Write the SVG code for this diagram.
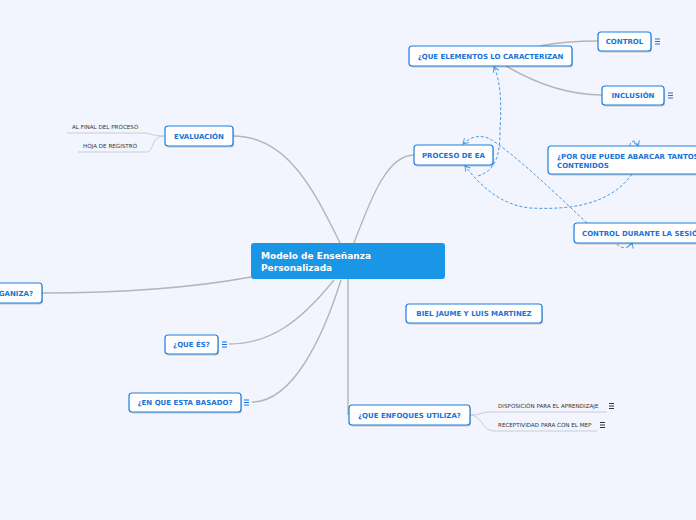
<svg xmlns="http://www.w3.org/2000/svg" width="696" height="520" viewBox="0 0 696 520">
<defs>
<style>
.node rect.box{fill:#ffffff;stroke:#1a7fe0;stroke-width:1.2}
.node rect.sh{fill:#000;opacity:0.18}
.nt{font-family:"DejaVu Sans",Verdana,sans-serif;font-weight:bold;font-size:7px;fill:#1a73d9}
.lt{font-family:"DejaVu Sans",Verdana,sans-serif;font-size:5.6px;fill:#333}
.conn path{fill:none;stroke:#b5b5b5;stroke-width:1.4}
.conn path.leaf{stroke:#c9ccd6;stroke-width:1}
.dash path{fill:none;stroke:#4a9ae0;stroke-width:1;stroke-dasharray:3 2}
.ico line{stroke:#1a73d9;stroke-width:1}
.ico2 line{stroke:#333;stroke-width:1}
</style>
<marker id="arr" markerWidth="8" markerHeight="8" refX="6" refY="4" orient="auto" markerUnits="userSpaceOnUse">
<path d="M1,1 L6,4 L1,7" fill="none" stroke="#4a9ae0" stroke-width="1"/>
</marker>
</defs>
<rect x="0" y="0" width="696" height="520" fill="#f2f5fd"/>

<g id="connectors">
<g class="conn">
<path d="M340,243 C312,185 285,136 233,136"/>
<path d="M354,243 C372,195 388,155 414,155"/>
<path d="M251,277 C180,290 110,293 42,293"/>
<path d="M334,280 C300,322 270,344 229,344"/>
<path d="M341,280 C322,340 292,402 252,402"/>
<path d="M348,279 L348,415"/>
<path d="M540,46 C560,42 578,41 598,41"/>
<path d="M506,66 C540,86 570,95 602,95"/>
<path class="leaf" d="M165,136 C150,136 152,133 143,133 L67,133"/>
<path class="leaf" d="M165,136 C150,136 155,152 146,152 L78,152"/>
<path class="leaf" d="M470,415 C482,415 480,412 492,412 L607,412"/>
<path class="leaf" d="M470,415 C482,415 482,431 494,431 L597,431"/>
</g>
<g class="dash">
<path d="M478,176 C498,170 500,150 500,130 C502,100 500,80 494,67" marker-end="url(#arr)"/>
<path d="M587,223 C552,190 512,152 490,139 C480,134 470,137 463,144" marker-end="url(#arr)"/>
<path d="M632,174 C610,205 570,210 530,208 C500,205 480,185 465,166" marker-end="url(#arr)"/>
<path d="M630,146 C630,140 636,139 638,146" marker-end="url(#arr)"/>
<path d="M617,244 C620,249 630,249 632,243" marker-end="url(#arr)"/>
</g>
</g>

<g id="central">
<rect x="251" y="243" width="194" height="36" rx="3" fill="#1a96e6"/>
<text x="261" y="259" font-family="DejaVu Sans,Verdana,sans-serif" font-weight="bold" font-size="9" fill="#ffffff">Modelo de Enseñanza</text>
<text x="261" y="270.5" font-family="DejaVu Sans,Verdana,sans-serif" font-weight="bold" font-size="9" fill="#ffffff">Personalizada</text>
</g>

<g id="n-elementos" class="node">
<rect class="sh" x="410" y="47.5" width="163" height="20" rx="3"/>
<rect class="box" x="409" y="46" width="163" height="20" rx="3"/>
<text class="nt" x="490.5" y="58.5" text-anchor="middle">¿QUE ELEMENTOS LO CARACTERIZAN</text>
</g>
<g id="n-control" class="node">
<rect class="sh" x="599" y="33.5" width="53" height="19" rx="3"/>
<rect class="box" x="598" y="32" width="53" height="19" rx="3"/>
<text class="nt" x="624.5" y="44" text-anchor="middle">CONTROL</text>
<g class="ico"><line x1="655" y1="39" x2="660" y2="39"/><line x1="655" y1="41.5" x2="660" y2="41.5"/><line x1="655" y1="44" x2="660" y2="44"/></g>
</g>
<g id="n-inclusion" class="node">
<rect class="sh" x="603" y="87.5" width="62" height="19" rx="3"/>
<rect class="box" x="602" y="86" width="62" height="19" rx="3"/>
<text class="nt" x="633" y="98" text-anchor="middle">INCLUSIÓN</text>
<g class="ico"><line x1="668" y1="93" x2="673" y2="93"/><line x1="668" y1="95.5" x2="673" y2="95.5"/><line x1="668" y1="98" x2="673" y2="98"/></g>
</g>
<g id="n-proceso" class="node">
<rect class="sh" x="415" y="146.5" width="79" height="20" rx="3"/>
<rect class="box" x="414" y="145" width="79" height="20" rx="3"/>
<text class="nt" x="453.5" y="157.5" text-anchor="middle">PROCESO DE EA</text>
</g>
<g id="n-porque" class="node">
<rect class="sh" x="549" y="147.5" width="180" height="28" rx="3"/>
<rect class="box" x="548" y="146" width="180" height="28" rx="3"/>
<text class="nt" x="557" y="159">¿POR QUE PUEDE ABARCAR TANTOS</text>
<text class="nt" x="557" y="168">CONTENIDOS</text>
</g>
<g id="n-controlsesion" class="node">
<rect class="sh" x="575" y="224.5" width="150" height="20" rx="3"/>
<rect class="box" x="574" y="223" width="150" height="20" rx="3"/>
<text class="nt" x="582" y="235.5">CONTROL DURANTE LA SESIÓN</text>
</g>
<g id="n-evaluacion" class="node">
<rect class="sh" x="166" y="127.5" width="68" height="20" rx="3"/>
<rect class="box" x="165" y="126" width="68" height="20" rx="3"/>
<text class="nt" x="199" y="138.5" text-anchor="middle">EVALUACIÓN</text>
</g>
<g id="l-final">
<text class="lt" x="72" y="129">AL FINAL DEL PROCESO</text>
</g>
<g id="l-hoja">
<text class="lt" x="83" y="148">HOJA DE REGISTRO</text>
</g>
<g id="n-organiza" class="node">
<rect class="sh" x="-59" y="284.5" width="102" height="20" rx="3"/>
<rect class="box" x="-60" y="283" width="102" height="20" rx="3"/>
<text class="nt" x="33" y="295.5" text-anchor="end">¿COMO SE ORGANIZA?</text>
</g>
<g id="n-quees" class="node">
<rect class="sh" x="166" y="336.5" width="53" height="19" rx="3"/>
<rect class="box" x="165" y="335" width="53" height="19" rx="3"/>
<text class="nt" x="191.5" y="347" text-anchor="middle">¿QUE ÉS?</text>
<g class="ico"><line x1="222" y1="342" x2="227" y2="342"/><line x1="222" y1="344.5" x2="227" y2="344.5"/><line x1="222" y1="347" x2="227" y2="347"/></g>
</g>
<g id="n-basado" class="node">
<rect class="sh" x="130" y="394.5" width="112" height="19" rx="3"/>
<rect class="box" x="129" y="393" width="112" height="19" rx="3"/>
<text class="nt" x="185" y="405" text-anchor="middle">¿EN QUE ESTA BASADO?</text>
<g class="ico"><line x1="244" y1="400" x2="249" y2="400"/><line x1="244" y1="402.5" x2="249" y2="402.5"/><line x1="244" y1="405" x2="249" y2="405"/></g>
</g>
<g id="n-biel" class="node">
<rect class="sh" x="407" y="305.5" width="136" height="19" rx="3"/>
<rect class="box" x="406" y="304" width="136" height="19" rx="3"/>
<text class="nt" x="474" y="316" text-anchor="middle">BIEL JAUME Y LUIS MARTINEZ</text>
</g>
<g id="n-enfoques" class="node">
<rect class="sh" x="350" y="406.5" width="121" height="20" rx="3"/>
<rect class="box" x="349" y="405" width="121" height="20" rx="3"/>
<text class="nt" x="409.5" y="417.5" text-anchor="middle">¿QUE ENFOQUES UTILIZA?</text>
</g>
<g id="l-disposicion">
<text class="lt" x="498" y="408">DISPOSICIÓN PARA EL APRENDIZAJE</text>
<g class="ico2"><line x1="609" y1="403.5" x2="614" y2="403.5"/><line x1="609" y1="406" x2="614" y2="406"/><line x1="609" y1="408.5" x2="614" y2="408.5"/></g>
</g>
<g id="l-receptividad">
<text class="lt" x="498" y="427">RECEPTIVIDAD PARA CON EL MEP</text>
<g class="ico2"><line x1="600" y1="422.5" x2="605" y2="422.5"/><line x1="600" y1="425" x2="605" y2="425"/><line x1="600" y1="427.5" x2="605" y2="427.5"/></g>
</g>
</svg>
